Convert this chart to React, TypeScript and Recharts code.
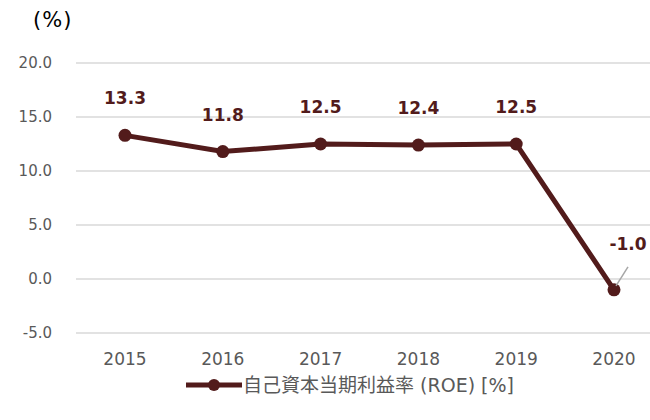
import { LineChart, Line, XAxis, YAxis, CartesianGrid, Legend, LabelList } from 'recharts';

const years = ['2015', '2016', '2017', '2018', '2019', '2020'];
const roe = [13.3, 11.8, 12.5, 12.4, 12.5, -1.0];
const yTicks = [-5, 0, 5, 10, 15, 20];

const seriesName = '自己資本当期利益率 (ROE) [%]';
const lineColor = '#521b1b';
const font = "'DejaVu Sans', 'Noto Sans CJK JP', sans-serif";

const data = years.map((y, i) => ({ year: y, roe: roe[i] }));

const renderValueLabel = (props: any) => {
  const { x, y, value, index } = props;
  if (x == null || y == null) return null;
  const txt = Number(value).toFixed(1);
  if (index === years.length - 1) {
    // last point: label up and to the right, with a thin leader line
    return (
      <g>
        <line x1={x + 2} y1={y - 4} x2={x + 14} y2={y - 23} stroke="#a6a6a6" strokeWidth={1.5} />
        <text x={x + 14} y={y - 40} textAnchor="middle" fontSize={17} fontWeight="bold" fill={lineColor} fontFamily={font}>
          {txt}
        </text>
      </g>
    );
  }
  return (
    <text x={x} y={y - 31} textAnchor="middle" fontSize={17} fontWeight="bold" fill={lineColor} fontFamily={font}>
      {txt}
    </text>
  );
};

const renderLegend = () => (
  <div style={{ height: 47, display: 'flex', justifyContent: 'center', alignItems: 'flex-start', paddingLeft: 36 }}>
    <svg width={58} height={20} style={{ marginTop: 2 }}>
      <line x1={1} y1={10} x2={57} y2={10} stroke={lineColor} strokeWidth={5} />
      <circle cx={29} cy={10} r={6} fill={lineColor} />
    </svg>
    <span style={{ fontSize: 19, color: '#595959', fontFamily: font, lineHeight: '24px' }}>{seriesName}</span>
  </div>
);

export default function App() {
  return (
    <div style={{ position: 'absolute', left: 0, top: 0, width: 650, height: 420, overflow: 'hidden', background: '#fff' }}>
      <div style={{ position: 'absolute', left: 33, top: 8, fontSize: 21, letterSpacing: 1, fontFamily: font, color: '#000' }}>(%)</div>
      <LineChart width={663} height={420} data={data} margin={{ top: 63, right: 0, bottom: 0, left: 0 }}>
        <CartesianGrid vertical={false} stroke="#d9d9d9" strokeWidth={1.5} />
        <XAxis
          dataKey="year"
          axisLine={false}
          tickLine={false}
          tickSize={0}
          tickMargin={20}
          height={40}
          padding={{ left: 49, right: 49 }}
          tick={{ fontSize: 17, fill: '#595959', fontFamily: font }}
        />
        <YAxis
          domain={[-5, 20]}
          ticks={yTicks}
          axisLine={false}
          tickLine={false}
          tickSize={0}
          tickMargin={24}
          width={76}
          tickFormatter={(v: number) => v.toFixed(1)}
          tick={{ fontSize: 15, fill: '#595959', fontFamily: font }}
        />
        <Legend verticalAlign="bottom" content={renderLegend} />
        <Line
          type="linear"
          dataKey="roe"
          name={seriesName}
          stroke={lineColor}
          strokeWidth={5}
          dot={{ r: 6.5, fill: lineColor, stroke: lineColor, strokeWidth: 0 }}
          activeDot={false}
          isAnimationActive={false}
        >
          <LabelList dataKey="roe" content={renderValueLabel} />
        </Line>
      </LineChart>
    </div>
  );
}
